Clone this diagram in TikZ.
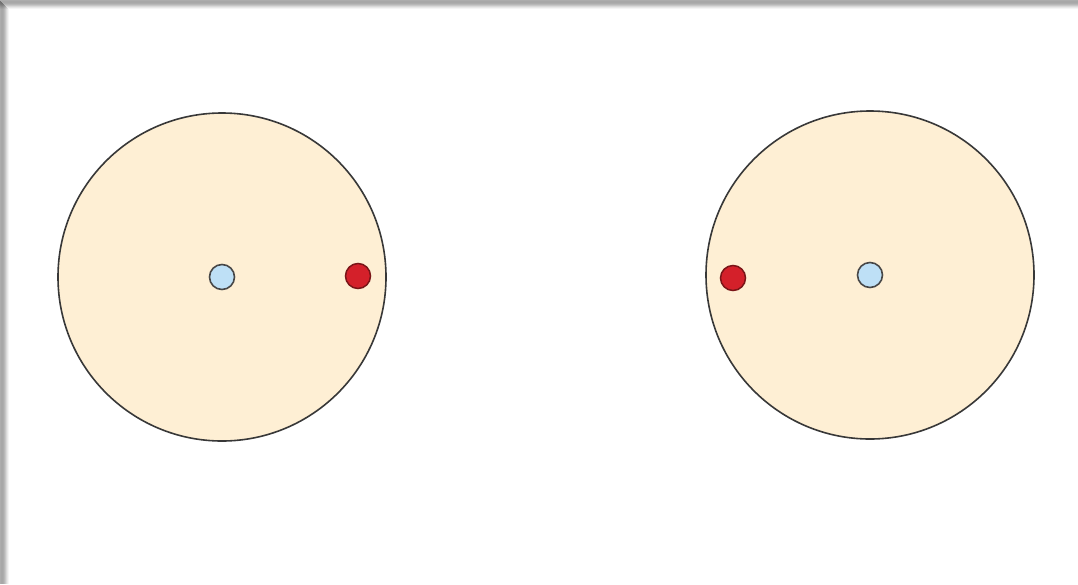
\documentclass[tikz,border=0pt]{standalone}
\begin{document}
\begin{tikzpicture}[x=1pt,y=-1pt,
  cell/.style={circle,draw=black!78,line width=1.6pt,fill=peach,minimum size=328pt,inner sep=0pt},
  nucleus/.style={circle,draw=black!72,line width=1.6pt,fill=lightblue,minimum size=25pt,inner sep=0pt},
  particle/.style={circle,draw=darkred,line width=1.5pt,fill=redfill,minimum size=25pt,inner sep=0pt}]
\definecolor{peach}{HTML}{FEEFD4}
\definecolor{lightblue}{HTML}{BEE0F6}
\definecolor{redfill}{HTML}{D4202A}
\definecolor{darkred}{HTML}{7A1518}
\useasboundingbox (0,0) rectangle (1078,584);
\fill[white] (0,0) rectangle (1078,584);
% soft shadow along top and left edges
\foreach \i/\o in {0/0.32,1/0.34,2/0.34,3/0.32,4/0.28,5/0.22,6/0.15,7/0.09,8/0.04} {
  \fill[black,opacity=\o] (0,\i) rectangle (1078,\i+1);
  \fill[black,opacity=\o] (\i,\i+1) rectangle (\i+1,584);
}
\node[cell] (c1) at (222,277) {};
\node[cell] (c2) at (870,275) {};
\node[nucleus] (n1) at (222,277) {};
\node[particle] (p1) at (358,276) {};
\node[particle] (p2) at (733,278) {};
\node[nucleus] (n2) at (870,275) {};
\end{tikzpicture}
\end{document}
